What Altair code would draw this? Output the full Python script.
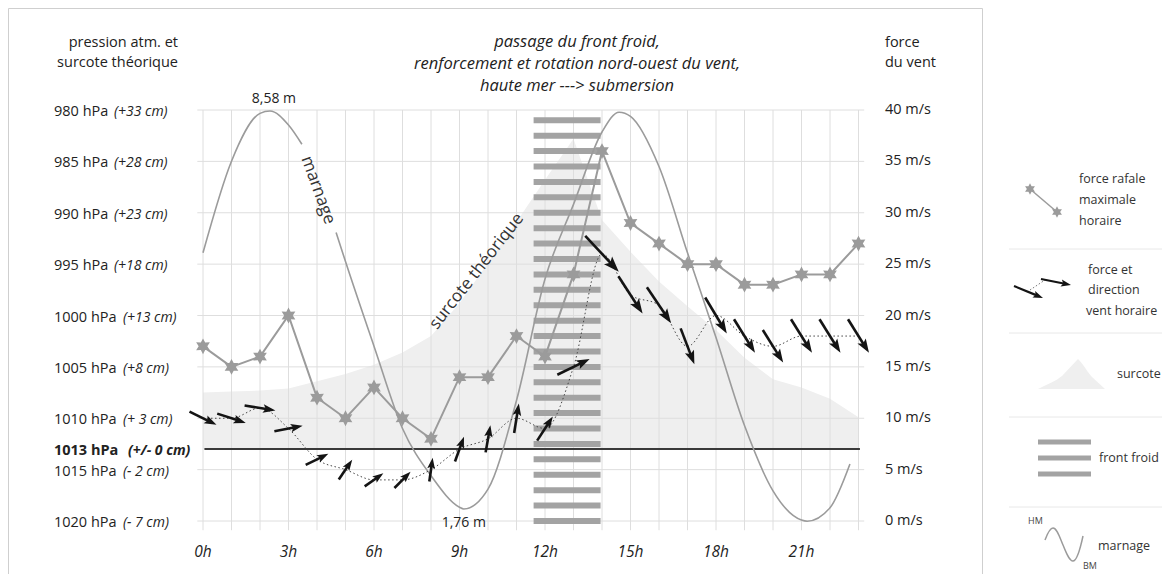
import math
import altair as alt
import pandas as pd

# ---------------- data ----------------
hours = list(range(24))
# force rafale maximale horaire (m/s)
gust = [17, 15, 16, 20, 12, 10, 13, 10, 8, 14, 14, 18, 16, 24, 36, 29, 27, 25, 25, 23, 23, 24, 24, 27]
# vent moyen horaire (m/s) et direction d'où il souffle (degrés)
wind = [10, 10, 11, 9, 6, 5, 4, 4, 5, 7, 8, 10, 9, 15, 26, 22, 21, 17, 20, 18, 17, 18, 18, 18]
wind_from = [296, 288, 279, 259, 244, 214, 235, 225, 188, 200, 190, 189, 213, 244,
             317, 327, 326, 339, 329, 328, 328, 328, 328, 328]
# surcote théorique (cm)
surcote_cm = [5.5, 5.6, 5.7, 5.9, 6.6, 7.3, 8.2, 9.4, 11.0, 14.2, 18.1, 22.1, 26.2, 30.2,
              22.3, 19.2, 16.3, 13.9, 11.6, 8.9, 6.8, 6.0, 4.9, 3.1]
# marnage (hauteur d'eau, m)
tide_t = [0, 1, 2, 2.35, 3, 3.47, 4.67, 5, 6, 7, 8, 9, 9.15, 10, 11, 12, 13, 14, 14.6,
          15, 16, 17, 18, 19, 20, 21, 21.2, 22, 22.7]
tide_m = [6.15, 7.72, 8.54, 8.58, 8.34, 8.01, 6.50, 6.00, 4.55, 3.14, 2.33, 1.79, 1.76,
          2.10, 3.62, 5.70, 6.98, 8.22, 8.56, 8.49, 7.63, 6.15, 4.70, 3.19, 2.07, 1.57,
          1.55, 1.78, 2.53]
tide_gap = (3.47, 4.67)
# front froid (heures)
front_start, front_end = 11.6, 13.95
# axes
pressures = [980, 985, 990, 995, 1000, 1005, 1010, 1013, 1015, 1020]
pressure_cm = ["(+33 cm)", "(+28 cm)", "(+23 cm)", "(+18 cm)", "(+13 cm)", "(+8 cm)",
               "(+ 3 cm)", "(+/- 0 cm)", "(- 2 cm)", "(- 7 cm)"]
speeds = [0, 5, 10, 15, 20, 25, 30, 35, 40]
hour_ticks = [0, 3, 6, 9, 12, 15, 18, 21]

# ---------------- layout ----------------
FONT = "Open Sans"
X0, X1 = 195, 850.5      # pixel range for 0h..23h
Y0, Y1 = 513, 102        # pixel range for 0..40 m/s
PX_H = (X1 - X0) / 23
PX_W = (Y0 - Y1) / 40
xs = alt.Scale(domain=[0, 23], range=[X0, X1], nice=False, zero=False)
ys = alt.Scale(domain=[0, 40], range=[Y0, Y1], nice=False, zero=False)
TIDE_HI_W, TIDE_LO_W = 39.9, 1.17
BASE_W = 7  # 1013 hPa


def X(f):
    return alt.X(f, scale=xs, axis=None)


def Y(f):
    return alt.Y(f, scale=ys, axis=None)


one = pd.DataFrame({"k": [0]})


def txt(s, x, y, size=14, style="normal", weight="normal", align="left",
        color="#222", angle=None, baseline="middle"):
    kw = dict(text=s, font=FONT, fontSize=size, fontStyle=style, fontWeight=weight,
              align=align, baseline=baseline, color=color)
    if angle is not None:
        kw["angle"] = angle
    return alt.Chart(one).mark_text(**kw).encode(x=alt.value(x), y=alt.value(y))


def prule(x, y, x2, y2, color="#e6e6e6", width=1, dash=None):
    kw = dict(color=color, strokeWidth=width, strokeCap="butt")
    if dash is not None:
        kw["strokeDash"] = dash
    return alt.Chart(one).mark_rule(**kw).encode(
        x=alt.value(x), y=alt.value(y), x2=alt.value(x2), y2=alt.value(y2))


HEAD = "M0,0L-0.6,1.7L0,1.35L0.6,1.7Z"
# six-pointed star symbol (unit radius)
_pts = []
for k in range(12):
    r = 1.0 if k % 2 == 0 else 0.55
    a = math.radians(-90 + 30 * k)
    _pts.append(f"{r * math.cos(a):.3f},{r * math.sin(a):.3f}")
STAR = "M" + "L".join(_pts) + "Z"

layers = []

# frame
layers += [prule(0.5, 0.5, 974.5, 0.5, "#cfcfcf"),
           prule(0.5, 0.5, 0.5, 700, "#cfcfcf"),
           prule(974.5, 0.5, 974.5, 700, "#cfcfcf")]

# surcote area
area_df = pd.DataFrame({"h": hours, "w": [c + BASE_W for c in surcote_cm], "b": BASE_W})
layers.append(alt.Chart(area_df).mark_area(color="#efefef").encode(
    x=X("h:Q"), y=Y("w:Q"), y2="b:Q"))

# grid
vg = pd.DataFrame({"h": hours, "w": -0.9, "w2": 40})
layers.append(alt.Chart(vg).mark_rule(color="#dedede", strokeWidth=1).encode(
    x=X("h:Q"), y=Y("w:Q"), y2="w2:Q"))
hg = pd.DataFrame({"w": speeds, "h": -0.2, "h2": 23.2})
layers.append(alt.Chart(hg).mark_rule(color="#dedede", strokeWidth=1).encode(
    x=X("h:Q"), x2="h2:Q", y=Y("w:Q")))

# 1013 hPa line
layers.append(alt.Chart(pd.DataFrame({"h": [0.05], "h2": [23.05], "w": [BASE_W]}))
              .mark_rule(color="#3a3a3a", strokeWidth=2).encode(
    x=X("h:Q"), x2="h2:Q", y=Y("w:Q")))

# front froid bars
levels = [i * 1.5 for i in range(27)]
fr = pd.DataFrame({"w": levels, "h": front_start, "h2": front_end})
layers.append(alt.Chart(fr).mark_rule(color="#a3a3a3", strokeWidth=6, strokeCap="butt").encode(
    x=X("h:Q"), x2="h2:Q", y=Y("w:Q")))


# marnage
def tide_w(m):
    return TIDE_LO_W + (m - 1.76) / (8.58 - 1.76) * (TIDE_HI_W - TIDE_LO_W)


td = pd.DataFrame({"h": tide_t, "w": [tide_w(m) for m in tide_m]})
for part in (td[td.h <= tide_gap[0]], td[td.h >= tide_gap[1]]):
    layers.append(alt.Chart(part).mark_line(color="#9b9b9b", strokeWidth=1.6,
                                            interpolate="monotone").encode(x=X("h:Q"), y=Y("w:Q")))

# gusts
gd = pd.DataFrame({"h": hours, "w": gust})
layers.append(alt.Chart(gd).mark_line(color="#9b9b9b", strokeWidth=2).encode(x=X("h:Q"), y=Y("w:Q")))
layers.append(alt.Chart(gd).mark_point(shape=STAR, filled=True, color="#9b9b9b", size=250,
                                       opacity=1).encode(x=X("h:Q"), y=Y("w:Q")))

# wind dotted line
wd = pd.DataFrame({"h": hours, "w": wind})
layers.append(alt.Chart(wd).mark_line(color="#444", strokeWidth=1, strokeDash=[1.5, 2.5],
                                      interpolate="monotone").encode(x=X("h:Q"), y=Y("w:Q")))

# wind arrows
rows = []
for h, w, d in zip(hours, wind, wind_from):
    bear = (d + 180) % 360
    b = math.radians(bear)
    ux, uy = math.sin(b), -math.cos(b)
    L = 18 + 1.2 * w
    HL = 10 + 0.22 * w

    def to_d(px, py, h=h, w=w):
        return h + px / PX_H, w - py / PX_W

    tx, ty = to_d(-L / 2 * ux, -L / 2 * uy)
    ex, ey = to_d((L / 2 - 0.75 * HL) * ux, (L / 2 - 0.75 * HL) * uy)
    px_, py_ = to_d(L / 2 * ux, L / 2 * uy)
    rows.append(dict(tx=tx, ty=ty, ex=ex, ey=ey, px=px_, py=py_, ang=bear,
                     sz=(2 * HL / 1.7) ** 2))
ar = pd.DataFrame(rows)
layers.append(alt.Chart(ar).mark_rule(color="#141414", strokeWidth=2.6, strokeCap="butt").encode(
    x=X("tx:Q"), y=Y("ty:Q"), x2="ex:Q", y2="ey:Q"))
layers.append(alt.Chart(ar).mark_point(shape=HEAD, filled=True, color="#141414", opacity=1).encode(
    x=X("px:Q"), y=Y("py:Q"), angle=alt.Angle("ang:Q", scale=None), size=alt.Size("sz:Q", scale=None)))

# tide annotations
ta = pd.DataFrame({"h": [2.35], "w": [tide_w(8.58)], "t": ["8,58 m"]})
layers.append(alt.Chart(ta).mark_text(font=FONT, fontSize=14, color="#222", dy=-12, dx=4).encode(
    x=X("h:Q"), y=Y("w:Q"), text="t:N"))
tb = pd.DataFrame({"h": [9.15], "w": [tide_w(1.76)], "t": ["1,76 m"]})
layers.append(alt.Chart(tb).mark_text(font=FONT, fontSize=14, color="#222", dy=14).encode(
    x=X("h:Q"), y=Y("w:Q"), text="t:N"))
layers.append(alt.Chart(pd.DataFrame({"h": [4.04], "w": [32.2]})).mark_text(
    text="marnage", font=FONT, fontSize=17, angle=70, color="#333").encode(x=X("h:Q"), y=Y("w:Q")))
layers.append(alt.Chart(pd.DataFrame({"h": [9.6], "w": [24.3]})).mark_text(
    text="surcote théorique", font=FONT, fontSize=17, angle=308, color="#333").encode(x=X("h:Q"), y=Y("w:Q")))

# left axis labels
lab = pd.DataFrame({"w": [1020 - p for p in pressures],
                    "reg": [f"{p} hPa" for p in pressures],
                    "it": pressure_cm, "p": pressures})
normal = lab[lab.p != 1013]
bold = lab[lab.p == 1013]
layers.append(alt.Chart(normal).mark_text(font=FONT, fontSize=14.5, align="left", color="#222", dy=2).encode(
    x=alt.value(46), y=Y("w:Q"), text="reg:N"))
layers.append(alt.Chart(bold).mark_text(font=FONT, fontSize=14.5, fontWeight="bold", align="left",
                                        color="#222", dy=2).encode(x=alt.value(46), y=Y("w:Q"), text="reg:N"))
layers.append(alt.Chart(normal[normal.p < 1000]).mark_text(font=FONT, fontSize=14, fontStyle="italic",
                                                           align="left", color="#222", dy=2).encode(
    x=alt.value(106), y=Y("w:Q"), text="it:N"))
layers.append(alt.Chart(normal[normal.p >= 1000]).mark_text(font=FONT, fontSize=14, fontStyle="italic",
                                                            align="left", color="#222", dy=2).encode(
    x=alt.value(115), y=Y("w:Q"), text="it:N"))
layers.append(alt.Chart(bold).mark_text(font=FONT, fontSize=14, fontStyle="italic", fontWeight="bold",
                                        align="left", color="#222", dy=2).encode(
    x=alt.value(120), y=Y("w:Q"), text="it:N"))

# right axis labels
rl = pd.DataFrame({"w": speeds, "t": [f"{s} m/s" for s in speeds]})
layers.append(alt.Chart(rl).mark_text(font=FONT, fontSize=14.5, align="left", color="#222").encode(
    x=alt.value(877), y=Y("w:Q"), text="t:N"))

# hour labels
hl = pd.DataFrame({"h": hour_ticks, "t": [f"{h}h" for h in hour_ticks]})
layers.append(alt.Chart(hl).mark_text(font=FONT, fontSize=15.5, fontStyle="italic", color="#222").encode(
    x=X("h:Q"), y=alt.value(544), text="t:N"))

# headers & title
layers += [txt("pression atm. et", 170, 35, align="right", size=14.5),
           txt("surcote théorique", 170, 55, align="right", size=14.5),
           txt("force", 877, 35, size=14.5), txt("du vent", 877, 55, size=14.5),
           txt("passage du front froid,", 569, 34, size=16.5, style="italic", align="center"),
           txt("renforcement et rotation nord-ouest du vent,", 569, 56, size=16.5, style="italic", align="center"),
           txt("haute mer ---> submersion", 569, 78, size=16.5, style="italic", align="center")]

# ---------------- legend ----------------
for yy in [241, 325, 409, 499]:
    layers.append(prule(1001, yy, 1162, yy, "#e8e8e8"))
# gust legend
layers.append(prule(1022, 181, 1049, 204, "#9b9b9b", 1.5))
for sx, sy in [(1022, 181), (1049, 204)]:
    layers.append(alt.Chart(one).mark_point(shape=STAR, filled=True, color="#9b9b9b", size=130,
                                            opacity=1).encode(x=alt.value(sx), y=alt.value(sy)))
LG = dict(size=12.5, color="#333")
layers += [txt("force rafale", 1071, 171, **LG), txt("maximale", 1071, 192, **LG),
           txt("horaire", 1071, 213, **LG)]


def leg_arrow(x0, y0, x1, y1, hl=10):
    dx, dy = x1 - x0, y1 - y0
    n = math.hypot(dx, dy)
    ux, uy = dx / n, dy / n
    bear = math.degrees(math.atan2(ux, -uy)) % 360
    sx, sy = x1 - 0.75 * hl * ux, y1 - 0.75 * hl * uy
    return [prule(x0, y0, sx, sy, "#141414", 2.2),
            alt.Chart(one).mark_point(shape=HEAD, filled=True, color="#141414", opacity=1,
                                      angle=bear, size=(2 * hl / 1.7) ** 2).encode(
                x=alt.value(x1), y=alt.value(y1))]


layers.append(prule(1022, 282, 1037, 272, "#777", 1, [1.5, 2]))
layers += leg_arrow(1006, 278, 1035, 290)
layers += leg_arrow(1033, 271, 1063, 277)
layers += [txt("force et", 1080, 262, **LG), txt("direction", 1080, 282, **LG),
           txt("vent horaire", 1078, 303, **LG)]
# surcote legend
layers.append(alt.Chart(one).mark_point(
    shape="M-32,0C-22,-5 -14,-8 -8,-13L8,-30C14,-24 18,-16 22,-12L35,0Z",
    filled=True, color="#efefef", opacity=1, size=4).encode(x=alt.value(1062), y=alt.value(381)))
layers.append(txt("surcote", 1109, 366, **LG))
# front legend
for yy in [434, 450, 466]:
    layers.append(prule(1030, yy, 1083, yy, "#a3a3a3", 5))
layers.append(txt("front froid", 1091, 450, **LG))
# marnage legend
layers.append(alt.Chart(one).mark_point(
    shape="M-19,-4C-16,-12 -13,-16 -11,-16C-7,-16 -4,-6 -1,1C2,8 5,17 9,17C13,17 16,6 19,-8",
    filled=False, color="#9b9b9b", strokeWidth=1.5, opacity=1, size=4).encode(
    x=alt.value(1056), y=alt.value(536)))
layers += [txt("HM", 1020, 513, size=9, color="#444"), txt("BM", 1075, 558, size=9, color="#444"),
           txt("marnage", 1090, 538, **LG)]

chart = alt.layer(*layers).properties(
    width=1154, height=566, padding=0,
    autosize=alt.AutoSizeParams(type="none"),
).configure_view(stroke=None)

chart.save("out.html", embed_options={"renderer": "svg", "actions": False})
